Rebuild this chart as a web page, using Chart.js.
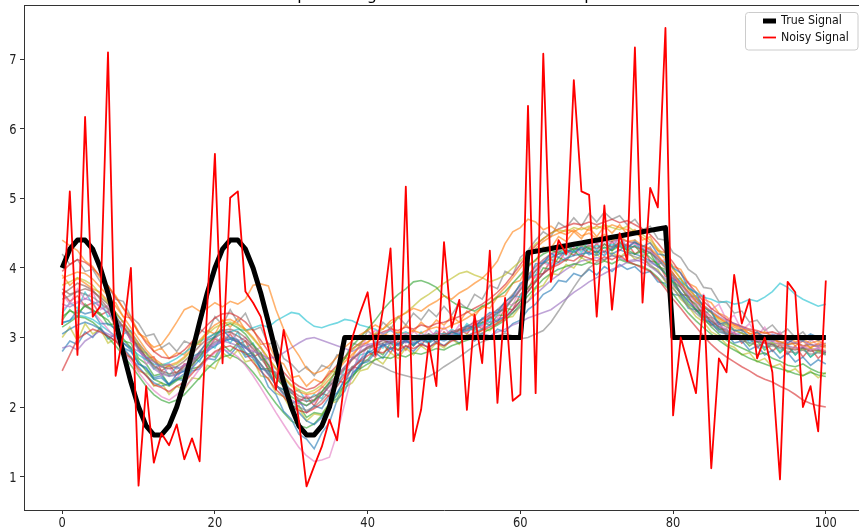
<!DOCTYPE html>
<html><head><meta charset="utf-8">
<script src="https://cdn.jsdelivr.net/npm/chart.js@4"></script>
<style>
html,body{margin:0;padding:0;background:#fff;overflow:hidden;width:859px;height:528px}
#wrap{position:absolute;left:0;top:0;width:866px;height:528px}
</style>
</head><body><div id="wrap"><canvas id="c" width="866" height="528"></canvas></div>
<script>
const xValues = [0,1,2,3,4,5,6,7,8,9,10,11,12,13,14,15,16,17,18,19,20,21,22,23,24,25,26,27,28,29,30,31,32,33,34,35,36,37,38,39,40,41,42,43,44,45,46,47,48,49,50,51,52,53,54,55,56,57,58,59,60,61,62,63,64,65,66,67,68,69,70,71,72,73,74,75,76,77,78,79,80,81,82,83,84,85,86,87,88,89,90,91,92,93,94,95,96,97,98,99,100];
const xTicks = [0,20,40,60,80,100];
const yTicks = [1,2,3,4,5,6,7];
const seriesNames = ['True Signal','Noisy Signal'];
const titleText = 'Step-wise signal and its smoothed samples';

const trueSignal = [4.00,4.27,4.40,4.40,4.27,4.00,3.64,3.22,2.78,2.36, 2.00,1.73,1.60,1.60,1.73,2.00,2.36,2.78,3.22,3.64, 4.00,4.27,4.40,4.40,4.27,4.00,3.64,3.22,2.78,2.36, 2.00,1.73,1.60,1.60,1.73,2.00,2.45,3.00,3.00,3.00, 3.00,3.00,3.00,3.00,3.00,3.00,3.00,3.00,3.00,3.00, 3.00,3.00,3.00,3.00,3.00,3.00,3.00,3.00,3.00,3.00, 3.00,4.22,4.24,4.26,4.28,4.30,4.32,4.34,4.36,4.38, 4.40,4.42,4.44,4.46,4.48,4.50,4.52,4.54,4.56,4.58, 3.00,3.00,3.00,3.00,3.00,3.00,3.00,3.00,3.00,3.00, 3.00,3.00,3.00,3.00,3.00,3.00,3.00,3.00,3.00,3.00,3.00];

const noisySignal = [3.18,5.10,2.75,6.17,3.30,3.45,7.10,2.45,3.05,4.00, 0.87,2.30,1.20,1.62,1.45,1.75,1.25,1.55,1.22,3.45, 5.64,2.63,5.01,5.10,3.66,3.50,3.30,2.85,2.25,3.11, 2.54,1.80,0.86,1.15,1.43,1.82,1.52,2.40,3.00,3.35, 3.65,2.75,3.40,4.28,1.86,5.17,1.51,1.96,2.92,2.30, 4.37,3.14,3.54,1.96,3.33,2.63,4.25,2.06,3.57,2.09, 2.18,6.33,2.20,7.08,3.80,4.40,4.20,6.70,5.10,5.05, 3.30,4.90,3.40,4.50,4.10,7.17,3.50,5.15,4.87,7.45, 1.88,3.00,2.60,2.20,3.60,1.12,2.70,2.50,3.90,3.20, 3.55,2.70,3.00,2.50,0.96,3.80,3.65,2.00,2.30,1.65,3.82];

const ens00 = [3.22,3.24,3.39,3.34,3.37,3.20,3.20,3.12,2.92,2.82, 2.62,2.57,2.40,2.42,2.32,2.47,2.52,2.72,2.78,2.96, 3.01,3.11,3.00,2.97,2.79,2.70,2.55,2.29,2.18,1.94, 1.83,1.61,1.54,1.40,1.63,1.78,2.10,2.23,2.49,2.58, 2.80,2.78,2.91,2.83,2.91,2.96,2.88,2.98,2.94,3.02, 2.98,3.08,3.04,3.17,3.14,3.27,3.36,3.36,3.52,3.59, 3.78,3.84,4.06,4.07,4.21,4.15,4.26,4.22,4.29,4.19, 4.24,4.18,4.28,4.34,4.29,4.37,4.31,4.36,4.20,4.18, 4.00,3.93,3.71,3.64,3.43,3.37,3.19,3.22,3.10,3.11, 3.01,3.08,2.99,3.03,3.03,2.92,2.99,2.95,3.03,2.96,3.02];
const ens01 = [4.40,4.32,4.25,4.10,4.02,3.85,3.74,3.60,3.42,3.30, 3.08,2.95,2.86,2.90,3.05,3.22,3.40,3.45,3.38,3.42, 3.50,3.44,3.52,3.48,3.55,3.75,3.77,3.74,3.40,3.12, 2.90,2.74,2.55,2.48,2.52,2.60,2.72,2.86,2.95,3.04, 3.10,3.18,3.12,3.24,3.30,3.35,3.42,3.38,3.46,3.52, 3.60,3.55,3.64,3.70,3.78,3.85,3.96,4.10,4.35,4.52, 4.58,4.70,4.66,4.55,4.60,4.52,4.48,4.55,4.46,4.50, 4.42,4.48,4.40,4.45,4.38,4.40,4.32,4.28,4.18,4.05, 3.92,3.78,3.66,3.52,3.45,3.36,3.28,3.22,3.18,3.12, 3.10,3.05,3.08,3.02,2.98,3.00,2.94,2.97,2.92,2.95,2.90];
const ens02 = [3.30,3.38,3.35,3.45,3.40,3.32,3.25,3.10,2.98,2.85, 2.66,2.52,2.40,2.35,2.30,2.38,2.45,2.60,2.72,2.88, 3.02,3.15,3.20,3.14,3.05,2.90,2.78,2.60,2.42,2.30, 2.15,2.08,2.02,2.10,2.22,2.36,2.55,2.70,2.88,3.00, 3.12,3.25,3.40,3.52,3.62,3.70,3.80,3.82,3.78,3.72, 3.60,3.52,3.45,3.42,3.38,3.45,3.50,3.58,3.66,3.78, 3.90,4.02,4.12,4.20,4.25,4.22,4.30,4.26,4.34,4.28, 4.22,4.30,4.25,4.32,4.26,4.20,4.24,4.15,4.05,3.92, 3.78,3.62,3.48,3.40,3.28,3.15,3.05,2.96,2.90,2.85, 2.80,2.75,2.78,2.70,2.66,2.60,2.58,2.62,2.55,2.50,2.48];
const ens03 = [2.52,2.75,2.98,3.05,3.12,3.08,3.02,2.95,2.82,2.70, 2.55,2.45,2.32,2.28,2.22,2.30,2.36,2.48,2.60,2.70, 2.80,2.85,2.88,2.82,2.78,2.64,2.52,2.40,2.25,2.15, 2.02,1.95,1.92,1.98,2.05,2.18,2.30,2.45,2.55,2.66, 2.74,2.80,2.78,2.86,2.82,2.88,2.84,2.90,2.86,2.92, 2.88,2.95,2.98,3.02,3.06,3.10,3.15,3.20,3.28,3.40, 3.52,3.66,3.80,3.92,4.00,4.05,4.12,4.10,4.18,4.14, 4.10,4.16,4.12,4.18,4.10,4.05,4.00,3.95,3.84,3.70, 3.55,3.42,3.28,3.15,3.02,2.90,2.80,2.72,2.65,2.58, 2.52,2.45,2.40,2.36,2.30,2.25,2.18,2.10,2.05,2.02,2.00];
const ens04 = [2.85,2.88,2.82,2.95,3.02,3.10,3.05,3.00,2.92,2.86, 2.80,2.72,2.65,2.58,2.62,2.55,2.60,2.68,2.75,2.82, 2.90,2.95,2.92,2.88,2.85,2.80,2.76,2.70,2.72,2.78, 2.85,2.92,2.98,3.00,2.96,2.92,2.88,2.84,2.80,2.86, 2.90,2.92,2.88,2.95,2.90,2.94,3.00,2.96,3.02,2.98, 3.00,2.96,3.02,3.00,3.04,3.06,3.02,3.08,3.12,3.18, 3.22,3.28,3.32,3.36,3.40,3.48,3.56,3.65,3.72,3.80, 3.86,3.92,3.98,4.02,4.08,4.10,4.12,4.08,4.02,3.95, 3.85,3.76,3.66,3.55,3.46,3.38,3.30,3.24,3.20,3.15, 3.10,3.06,3.02,3.05,3.00,2.96,2.92,2.95,2.90,2.88,2.92];
const ens05 = [3.62,3.70,3.78,3.74,3.68,3.55,3.42,3.30,3.15,3.02, 2.86,2.72,2.60,2.52,2.48,2.50,2.58,2.66,2.80,2.92, 3.00,3.06,3.08,3.02,2.95,2.84,2.70,2.56,2.42,2.30, 2.20,2.12,2.08,2.10,2.18,2.30,2.42,2.55,2.68,2.78, 2.86,2.90,2.96,2.92,2.98,3.00,2.96,3.02,3.05,3.00, 3.04,3.06,3.10,3.12,3.18,3.22,3.28,3.35,3.42,3.55, 3.68,3.82,3.96,4.06,4.14,4.20,4.22,4.28,4.26,4.32, 4.28,4.34,4.30,4.36,4.32,4.30,4.26,4.22,4.12,4.00, 3.88,3.72,3.58,3.45,3.34,3.24,3.15,3.08,3.04,3.00, 2.98,2.94,2.92,2.90,2.86,2.84,2.82,2.85,2.80,2.82,2.78];
const ens06 = [3.40,3.48,3.52,3.45,3.38,3.25,3.12,2.98,2.80,2.66, 2.50,2.36,2.24,2.15,2.10,2.18,2.28,2.40,2.55,2.68, 2.78,2.82,2.80,2.72,2.60,2.45,2.28,2.10,1.92,1.75, 1.58,1.42,1.30,1.22,1.24,1.28,1.62,2.05,2.48,2.82, 3.02,3.10,3.05,3.12,3.00,3.06,2.98,3.04,3.00,3.08, 3.02,3.10,3.06,3.14,3.20,3.25,3.30,3.38,3.46,3.58, 3.70,3.86,3.98,4.10,4.18,4.25,4.30,4.35,4.32,4.38, 4.35,4.40,4.36,4.42,4.38,4.34,4.30,4.24,4.15,4.04, 3.90,3.76,3.62,3.50,3.38,3.28,3.18,3.12,3.06,3.02, 2.98,2.96,2.92,2.95,2.90,2.86,2.84,2.88,2.82,2.85,2.80];
const ens07 = [3.55,3.60,3.66,3.62,3.58,3.50,3.40,3.28,3.15,3.00, 2.85,2.70,2.58,2.50,2.45,2.48,2.55,2.64,2.76,2.86, 2.94,2.98,3.00,2.95,2.88,2.76,2.62,2.48,2.32,2.20, 2.08,2.00,1.95,2.00,2.10,2.22,2.36,2.48,2.58,2.65, 2.68,2.62,2.58,2.52,2.48,2.45,2.42,2.40,2.44,2.50, 2.58,2.65,2.72,2.80,2.88,2.94,2.98,3.02,3.06,3.02, 2.98,3.00,3.05,3.10,3.22,3.38,3.55,3.72,3.88,4.00, 4.08,4.12,4.18,4.15,4.20,4.16,4.12,4.05,3.95,3.82, 3.70,3.58,3.45,3.35,3.25,3.18,3.10,3.05,3.00,2.96, 2.92,2.90,2.86,2.88,2.84,2.80,2.78,2.82,2.76,2.78,2.75];
const ens08 = [3.75,3.80,3.86,3.82,3.75,3.62,3.50,3.36,3.22,3.05, 2.90,2.76,2.66,2.60,2.58,2.62,2.70,2.82,2.94,3.05, 3.14,3.20,3.22,3.18,3.10,2.98,2.85,2.70,2.56,2.44, 2.32,2.25,2.20,2.24,2.32,2.45,2.58,2.70,2.82,2.92, 3.00,3.06,3.12,3.20,3.28,3.36,3.45,3.55,3.62,3.70, 3.78,3.85,3.92,3.95,3.90,3.86,3.80,3.84,3.90,4.00, 4.10,4.22,4.35,4.42,4.50,4.55,4.52,4.58,4.55,4.60, 4.56,4.62,4.58,4.55,4.60,4.52,4.48,4.40,4.28,4.15, 4.00,3.85,3.70,3.58,3.45,3.35,3.25,3.18,3.12,3.06, 3.02,2.98,2.95,2.92,2.90,2.86,2.84,2.82,2.85,2.80,2.82];
const ens09 = [3.20,3.25,3.32,3.30,3.26,3.18,3.10,3.02,2.92,2.84, 2.75,2.68,2.62,2.60,2.64,2.70,2.78,2.86,2.94,3.00, 3.05,3.10,3.08,3.12,3.10,3.14,3.18,3.15,3.24,3.30, 3.36,3.34,3.24,3.16,3.14,3.18,3.21,3.26,3.24,3.18, 3.15,3.12,3.05,3.10,3.04,3.08,3.02,3.00,3.05,3.02, 3.06,3.02,3.08,3.10,3.14,3.20,3.26,3.34,3.45,3.56, 3.70,3.84,3.96,4.08,4.16,4.20,4.26,4.24,4.30,4.26, 4.32,4.28,4.34,4.30,4.26,4.32,4.28,4.22,4.14,4.02, 3.90,3.80,3.72,3.65,3.58,3.55,3.50,3.52,3.48,3.50, 3.55,3.52,3.58,3.66,3.78,3.72,3.62,3.55,3.50,3.45,3.48];
const ens10 = [3.05,3.12,3.18,3.22,3.18,3.12,3.02,2.95,2.85,2.72, 2.58,2.45,2.35,2.30,2.34,2.40,2.48,2.56,2.68,2.80, 2.88,2.94,2.98,2.94,2.86,2.75,2.62,2.48,2.32,2.18, 2.05,1.92,1.80,1.75,1.85,2.02,2.20,2.40,2.56,2.68, 2.78,2.84,2.88,2.92,2.88,2.94,2.90,2.96,2.92,2.98, 2.95,3.00,3.04,3.02,3.08,3.12,3.18,3.24,3.30,3.40, 3.52,3.66,3.80,3.92,4.02,4.08,4.14,4.18,4.20,4.22, 4.18,4.24,4.20,4.26,4.22,4.20,4.16,4.10,4.02,3.92, 3.80,3.65,3.52,3.40,3.30,3.20,3.12,3.06,3.02,2.98, 2.96,2.94,2.98,2.95,3.00,2.96,3.02,2.98,3.05,3.00,3.02];
const ens11 = [3.85,3.90,3.94,3.92,3.84,3.72,3.60,3.45,3.30,3.14, 2.98,2.82,2.70,2.62,2.60,2.64,2.72,2.84,2.96,3.08, 3.18,3.24,3.26,3.20,3.12,3.00,2.86,2.70,2.55,2.42, 2.30,2.22,2.18,2.20,2.28,2.40,2.52,2.65,2.76,2.86, 2.94,3.00,3.05,3.02,3.08,3.05,3.10,3.06,3.12,3.15, 3.12,3.18,3.22,3.28,3.35,3.42,3.50,3.60,3.72,3.86, 4.00,4.15,4.28,4.38,4.45,4.50,4.55,4.52,4.58,4.54, 4.60,4.56,4.62,4.58,4.55,4.50,4.44,4.36,4.25,4.12, 3.98,3.84,3.70,3.58,3.46,3.36,3.28,3.20,3.15,3.10, 3.06,3.02,3.00,2.96,2.94,2.90,2.92,2.88,2.86,2.90,2.85];
const ens12 = [3.15,3.22,3.30,3.28,3.22,3.12,3.00,2.88,2.74,2.60, 2.45,2.30,2.18,2.10,2.06,2.10,2.18,2.30,2.42,2.55, 2.65,2.72,2.75,2.70,2.62,2.50,2.36,2.20,2.05,1.92, 1.80,1.74,1.70,1.76,1.88,2.02,2.18,2.32,2.45,2.55, 2.62,2.68,2.72,2.70,2.75,2.72,2.78,2.76,2.80,2.84, 2.82,2.88,2.92,2.96,3.00,3.06,3.12,3.18,3.25,3.35, 3.48,3.60,3.72,3.84,3.92,3.98,4.02,4.06,4.04,4.08, 4.05,4.10,4.06,4.12,4.08,4.05,4.02,3.96,3.86,3.74, 3.62,3.48,3.35,3.24,3.14,3.05,2.96,2.88,2.82,2.76, 2.70,2.66,2.62,2.58,2.55,2.52,2.48,2.45,2.50,2.46,2.44];
const ens13 = [3.95,4.05,4.12,4.08,4.00,3.88,3.74,3.58,3.42,3.25, 3.08,2.92,2.80,2.72,2.70,2.74,2.82,2.94,3.06,3.18, 3.28,3.34,3.35,3.30,3.22,3.10,2.96,2.80,2.65,2.50, 2.38,2.30,2.25,2.28,2.36,2.48,2.60,2.72,2.84,2.92, 3.00,3.04,3.08,3.12,3.10,3.15,3.12,3.18,3.15,3.20, 3.22,3.26,3.30,3.36,3.42,3.48,3.56,3.65,3.76,3.90, 4.05,4.20,4.32,4.42,4.50,4.56,4.60,4.64,4.62,4.66, 4.62,4.66,4.70,4.65,4.68,4.62,4.56,4.48,4.36,4.22, 4.08,3.92,3.78,3.65,3.52,3.42,3.34,3.26,3.20,3.16, 3.12,3.10,3.06,3.08,3.04,3.00,3.02,2.98,3.00,2.96,2.98];
const ens14 = [3.48,3.44,3.50,3.56,3.52,3.44,3.36,3.24,3.12,2.98, 2.82,2.68,2.55,2.48,2.44,2.46,2.52,2.62,2.72,2.84, 2.92,2.96,2.98,2.94,2.86,2.74,2.60,2.46,2.32,2.20, 2.10,2.05,2.02,2.08,2.18,2.30,2.44,2.58,2.70,2.80, 2.86,2.92,2.96,2.94,2.98,2.95,2.92,2.96,2.98,3.02, 3.00,3.04,3.06,3.10,3.12,3.18,3.22,3.26,3.30,3.36, 3.44,3.52,3.62,3.72,3.82,3.90,3.98,4.05,4.10,4.12, 4.15,4.12,4.18,4.14,4.10,4.12,4.08,4.02,3.94,3.85, 3.75,3.64,3.52,3.42,3.32,3.24,3.16,3.10,3.06,3.02, 3.00,2.96,2.94,2.90,2.92,2.88,2.85,2.86,2.82,2.84,2.80];
const ens15 = [3.70,3.62,3.66,3.70,3.66,3.58,3.48,3.36,3.22,3.08, 2.92,2.78,2.66,2.58,2.55,2.58,2.66,2.76,2.88,2.98, 3.06,3.10,3.12,3.08,3.00,2.88,2.74,2.60,2.46,2.34, 2.24,2.16,2.12,2.15,2.22,2.34,2.46,2.58,2.70,2.78, 2.84,2.88,2.92,2.95,2.90,2.96,3.00,2.96,3.02,3.06, 3.04,3.08,3.12,3.16,3.22,3.26,3.32,3.40,3.50,3.62, 3.75,3.90,4.02,4.12,4.20,4.26,4.30,4.34,4.36,4.38, 4.36,4.40,4.38,4.42,4.38,4.36,4.32,4.26,4.16,4.04, 3.92,3.78,3.64,3.52,3.40,3.30,3.22,3.15,3.10,3.06, 3.02,3.00,2.96,2.98,2.94,2.90,2.92,2.88,2.90,2.86,2.88];
const ens16 = [3.62,3.48,3.70,3.55,3.66,3.40,3.46,3.18,3.24,2.95, 2.85,2.62,2.70,2.45,2.58,2.40,2.62,2.55,2.80,2.78, 3.02,2.90,3.10,2.95,3.00,2.80,2.86,2.62,2.55,2.30, 2.25,2.05,2.18,2.08,2.30,2.22,2.50,2.45,2.72,2.66, 2.90,2.82,3.02,2.88,3.05,2.92,3.10,2.98,3.12,3.00, 3.15,3.02,3.18,3.08,3.26,3.15,3.35,3.28,3.50,3.46, 3.72,3.88,3.86,4.08,4.02,4.22,4.12,4.30,4.18,4.36, 4.22,4.40,4.26,4.45,4.30,4.38,4.20,4.30,4.08,4.12, 3.92,3.75,3.80,3.55,3.62,3.40,3.48,3.25,3.32,3.10, 3.20,3.02,3.15,2.95,3.08,2.90,3.02,2.85,2.98,2.88,3.00];
const ens17 = [4.20,4.05,4.12,3.95,3.98,3.80,3.75,3.55,3.52,3.30, 3.20,3.02,3.05,2.85,2.92,2.80,2.95,2.90,3.12,3.05, 3.30,3.18,3.40,3.22,3.35,3.10,3.15,2.90,2.95,2.70, 2.62,2.50,2.58,2.45,2.60,2.55,2.75,2.70,2.92,2.88, 3.10,3.00,3.22,3.12,3.30,3.18,3.35,3.25,3.40,3.30, 3.45,3.32,3.50,3.42,3.62,3.55,3.75,3.70,3.95,3.90, 4.15,4.25,4.40,4.52,4.45,4.65,4.58,4.72,4.60,4.78, 4.66,4.80,4.70,4.75,4.62,4.70,4.55,4.60,4.42,4.40, 4.22,4.15,3.98,3.90,3.72,3.70,3.52,3.50,3.35,3.38, 3.22,3.25,3.10,3.18,3.05,3.12,3.00,3.08,2.95,3.02,2.98];
const ens18 = [3.00,3.15,2.95,3.20,3.05,3.12,2.92,2.98,2.75,2.72, 2.52,2.48,2.30,2.35,2.18,2.30,2.25,2.42,2.40,2.60, 2.55,2.78,2.70,2.82,2.65,2.68,2.45,2.42,2.20,2.15, 1.95,1.98,1.80,1.90,1.88,2.05,2.08,2.28,2.35,2.52, 2.55,2.70,2.62,2.78,2.70,2.85,2.75,2.88,2.80,2.92, 2.85,2.98,2.90,3.05,3.00,3.12,3.10,3.22,3.28,3.30, 3.45,3.52,3.70,3.75,3.92,3.90,4.05,4.00,4.15,4.08, 4.20,4.10,4.22,4.15,4.25,4.12,4.18,4.02,3.98,3.80, 3.72,3.55,3.45,3.30,3.22,3.08,3.02,2.90,2.86,2.75, 2.78,2.65,2.70,2.58,2.62,2.50,2.55,2.45,2.52,2.42,2.50];
const ens19 = [3.35,3.50,3.42,3.65,3.48,3.52,3.30,3.35,3.05,3.10, 2.82,2.78,2.55,2.62,2.45,2.58,2.50,2.72,2.65,2.90, 2.85,3.05,2.92,3.08,2.85,2.92,2.68,2.70,2.45,2.42, 2.20,2.25,2.08,2.18,2.12,2.35,2.30,2.55,2.52,2.75, 2.78,2.95,2.85,3.02,2.90,3.05,2.92,3.08,2.95,3.10, 3.02,3.12,3.05,3.20,3.12,3.28,3.22,3.40,3.38,3.60, 3.58,3.85,3.90,4.10,4.05,4.25,4.18,4.35,4.22,4.40, 4.25,4.42,4.30,4.45,4.28,4.40,4.22,4.30,4.05,4.10, 3.82,3.85,3.58,3.60,3.35,3.38,3.15,3.20,3.02,3.08, 2.92,3.00,2.85,2.95,2.80,2.90,2.75,2.86,2.72,2.82,2.78];
const ens20 = [2.80,2.95,2.90,3.08,3.00,3.15,2.98,3.05,2.85,2.80, 2.62,2.55,2.42,2.45,2.32,2.40,2.38,2.52,2.55,2.70, 2.68,2.85,2.75,2.88,2.72,2.75,2.55,2.52,2.30,2.25, 2.05,2.10,1.92,2.02,1.98,2.15,2.20,2.38,2.45,2.62, 2.65,2.78,2.70,2.85,2.75,2.88,2.80,2.92,2.85,2.95, 2.88,2.98,2.92,3.02,2.95,3.05,3.00,3.12,3.08,3.20, 3.25,3.40,3.48,3.62,3.68,3.82,3.80,3.92,3.88,3.98, 3.90,4.02,3.95,4.05,3.98,4.02,3.92,3.95,3.80,3.78, 3.62,3.60,3.42,3.40,3.25,3.22,3.08,3.05,2.92,2.95, 2.82,2.88,2.75,2.82,2.70,2.78,2.65,2.72,2.60,2.68,2.62];
const ens21 = [3.90,3.75,3.85,3.78,3.70,3.65,3.52,3.50,3.30,3.28, 3.05,3.00,2.80,2.85,2.70,2.78,2.75,2.92,2.90,3.10, 3.05,3.25,3.15,3.28,3.10,3.12,2.90,2.92,2.68,2.62, 2.42,2.45,2.30,2.40,2.35,2.52,2.50,2.70,2.72,2.90, 2.92,3.05,2.98,3.15,3.05,3.18,3.08,3.22,3.12,3.25, 3.18,3.30,3.22,3.38,3.30,3.45,3.42,3.58,3.60,3.78, 3.82,4.05,4.10,4.30,4.28,4.45,4.38,4.52,4.42,4.58, 4.45,4.60,4.50,4.62,4.48,4.55,4.40,4.45,4.25,4.22, 4.02,3.98,3.78,3.72,3.55,3.50,3.35,3.30,3.18,3.15, 3.05,3.08,2.95,3.02,2.90,2.98,2.88,2.95,2.85,2.92,2.88];
const ens22 = [3.25,3.40,3.30,3.48,3.38,3.35,3.18,3.20,2.95,2.92, 2.70,2.62,2.45,2.48,2.32,2.42,2.40,2.55,2.58,2.75, 2.72,2.90,2.80,2.92,2.75,2.78,2.55,2.55,2.30,2.25, 2.00,2.02,1.85,1.92,1.90,2.05,2.12,2.32,2.42,2.60, 2.68,2.82,2.75,2.92,2.82,2.98,2.88,3.02,2.92,3.05, 2.98,3.10,3.02,3.15,3.10,3.22,3.18,3.32,3.32,3.48, 3.55,3.72,3.82,4.00,3.98,4.15,4.10,4.25,4.15,4.30, 4.20,4.35,4.25,4.38,4.25,4.32,4.18,4.22,4.02,3.98, 3.80,3.72,3.55,3.48,3.30,3.28,3.12,3.12,2.98,3.00, 2.88,2.95,2.82,2.92,2.78,2.88,2.75,2.85,2.72,2.80,2.76];
const ens23 = [3.65,3.52,3.60,3.45,3.50,3.32,3.38,3.15,3.18,2.95, 2.90,2.70,2.72,2.52,2.60,2.48,2.62,2.60,2.78,2.82, 2.98,2.92,3.05,2.90,2.95,2.72,2.78,2.52,2.50,2.28, 2.25,2.08,2.15,2.02,2.20,2.15,2.38,2.35,2.58,2.55, 2.80,2.72,2.90,2.78,2.95,2.82,3.00,2.88,3.05,2.92, 3.08,2.98,3.12,3.05,3.20,3.12,3.30,3.22,3.42,3.40, 3.62,3.70,3.90,3.92,4.12,4.08,4.25,4.18,4.32,4.22, 4.35,4.22,4.38,4.25,4.35,4.20,4.28,4.10,4.08,3.88, 3.85,3.62,3.60,3.38,3.40,3.18,3.22,3.02,3.08,2.92, 3.00,2.85,2.95,2.80,2.90,2.76,2.88,2.72,2.85,2.70,2.80];
const ensembleRuns = [ens00,ens01,ens02,ens03,ens04,ens05,ens06,ens07,ens08,ens09,ens10,ens11,ens12,ens13,ens14,ens15,ens16,ens17,ens18,ens19,ens20,ens21,ens22,ens23];
const tab10 = ['#1f77b4','#ff7f0e','#2ca02c','#d62728','#9467bd','#8c564b','#e377c2','#7f7f7f','#bcbd22','#17becf'];

const FONT = '"DejaVu Sans", sans-serif';
const SQUEEZE = 0.85;
const toPts = arr => xValues.map((x, i) => ({x: x, y: arr[i]}));

function hexA(hex, a) {
  const n = parseInt(hex.slice(1), 16);
  return 'rgba(' + ((n >> 16) & 255) + ',' + ((n >> 8) & 255) + ',' + (n & 255) + ',' + a + ')';
}

const datasets = [];
datasets.push({label: seriesNames[1], data: toPts(noisySignal), borderColor: '#ff0000', borderWidth: 1.8, pointRadius: 0, tension: 0, order: 0, borderJoinStyle: 'round'});
datasets.push({label: seriesNames[0], data: toPts(trueSignal), borderColor: '#000000', borderWidth: 5, pointRadius: 0, tension: 0, order: 1, borderJoinStyle: 'round', borderCapStyle: 'butt'});
ensembleRuns.forEach((run, k) => {
  datasets.push({label: 'run' + k, data: toPts(run), borderColor: hexA(tab10[k % 10], 0.6), borderWidth: 1.6, pointRadius: 0, tension: 0, order: 2 + k});
});

function squeezedText(ctx, txt, x, y, align) {
  ctx.save();
  ctx.translate(x, y);
  ctx.scale(SQUEEZE, 1);
  ctx.textAlign = align;
  ctx.fillText(txt, 0, 0);
  ctx.restore();
}

const decor = {
  id: 'decor',
  afterDraw(chart) {
    const ctx = chart.ctx, a = chart.chartArea;
    const xs = chart.scales.x, ys = chart.scales.y;
    ctx.save();
    ctx.strokeStyle = '#333';
    ctx.lineWidth = 1;
    ctx.beginPath();
    ctx.moveTo(a.left, a.top + 0.5);
    ctx.lineTo(a.right, a.top + 0.5);
    ctx.stroke();
    ctx.fillStyle = '#222';
    ctx.font = '13.5px ' + FONT;
    ctx.textBaseline = 'alphabetic';
    xTicks.forEach(v => squeezedText(ctx, String(v), xs.getPixelForValue(v), 527, 'center'));
    yTicks.forEach(v => squeezedText(ctx, String(v), 16.5, ys.getPixelForValue(v) + 4.9, 'right'));
    ctx.fillStyle = '#000';
    ctx.font = '16px ' + FONT;
    ctx.textAlign = 'center';
    ctx.fillText(titleText, (a.left + a.right) / 2, 0);
    const bx = 745.5, by = 12.5, bw = 112.5, bh = 37.5, r = 3;
    ctx.fillStyle = 'rgba(255,255,255,0.8)';
    ctx.strokeStyle = '#cccccc';
    ctx.lineWidth = 1;
    ctx.beginPath();
    ctx.moveTo(bx + r, by);
    ctx.lineTo(bx + bw - r, by);
    ctx.arcTo(bx + bw, by, bx + bw, by + r, r);
    ctx.lineTo(bx + bw, by + bh - r);
    ctx.arcTo(bx + bw, by + bh, bx + bw - r, by + bh, r);
    ctx.lineTo(bx + r, by + bh);
    ctx.arcTo(bx, by + bh, bx, by + bh - r, r);
    ctx.lineTo(bx, by + r);
    ctx.arcTo(bx, by, bx + r, by, r);
    ctx.closePath();
    ctx.fill();
    ctx.stroke();
    const entries = [
      {name: seriesNames[0], color: '#000000', w: 5, y: 21},
      {name: seriesNames[1], color: '#ff0000', w: 1.8, y: 37.5}
    ];
    ctx.font = '13px ' + FONT;
    ctx.textBaseline = 'middle';
    entries.forEach(e => {
      ctx.strokeStyle = e.color;
      ctx.lineWidth = e.w;
      ctx.beginPath();
      ctx.moveTo(763, e.y);
      ctx.lineTo(776, e.y);
      ctx.stroke();
      ctx.fillStyle = '#111';
      squeezedText(ctx, e.name, 781, e.y, 'left');
    });
    ctx.restore();
  }
};

new Chart(document.getElementById('c'), {
  type: 'line',
  data: {datasets: datasets},
  options: {
    responsive: false,
    devicePixelRatio: 1,
    animation: false,
    layout: {padding: {top: 5, right: 2, left: 0, bottom: 0}},
    plugins: {legend: {display: false}, tooltip: {enabled: false}, title: {display: false}},
    scales: {
      x: {
        type: 'linear', min: -5, max: 105,
        afterBuildTicks(s) { s.ticks = xTicks.map(v => ({value: v})); },
        afterFit(s) { s.height = 18; s.paddingLeft = 0; s.paddingRight = 0; },
        grid: {drawOnChartArea: false, drawTicks: true, tickLength: 4, tickColor: '#333'},
        border: {display: true, color: '#333', width: 1},
        ticks: {display: false, autoSkip: false}
      },
      y: {
        type: 'linear', min: 0.52, max: 7.78,
        afterBuildTicks(s) { s.ticks = yTicks.map(v => ({value: v})); },
        afterFit(s) { s.width = 24; s.paddingTop = 0; s.paddingBottom = 0; },
        grid: {drawOnChartArea: false, drawTicks: true, tickLength: 4, tickColor: '#333'},
        border: {display: true, color: '#333', width: 1},
        ticks: {display: false, autoSkip: false}
      }
    }
  },
  plugins: [decor]
});
</script>
</body></html>
